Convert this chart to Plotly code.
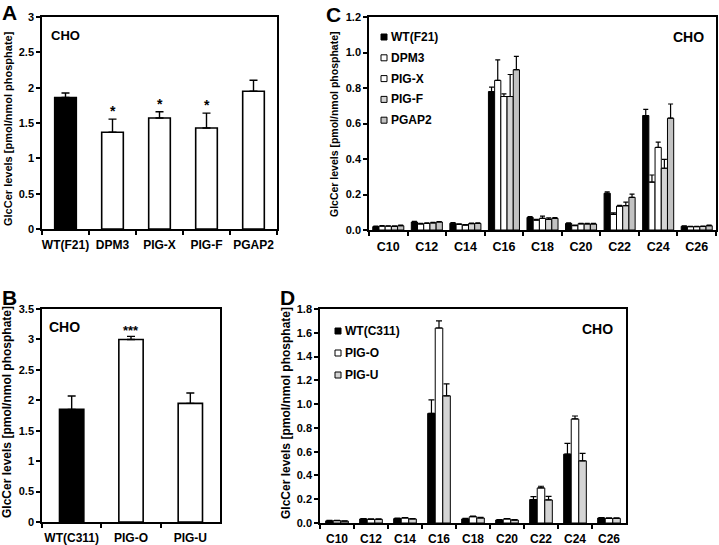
import plotly.graph_objects as go

W, H = 719, 545
FONT = "Arial, Liberation Sans, Helvetica, sans-serif"

# ---------------- data ----------------
a_cats = ["WT(F21)", "DPM3", "PIG-X", "PIG-F", "PGAP2"]
a_vals = [1.86, 1.37, 1.57, 1.43, 1.95]
a_errs = [0.065, 0.185, 0.09, 0.21, 0.155]
a_sig = ["", "*", "*", "*", ""]
a_colors = ["#000000", "#ffffff", "#ffffff", "#ffffff", "#ffffff"]

b_cats = ["WT(C311)", "PIG-O", "PIG-U"]
b_vals = [1.85, 3.0, 1.95]
b_errs = [0.22, 0.05, 0.17]
b_sig = ["", "***", ""]
b_colors = ["#000000", "#ffffff", "#ffffff"]

chains = ["C10", "C12", "C14", "C16", "C18", "C20", "C22", "C24", "C26"]

c_series = ["WT(F21)", "DPM3", "PIG-X", "PIG-F", "PGAP2"]
c_wt = [0.019, 0.045, 0.038, 0.780, 0.071, 0.037, 0.207, 0.645, 0.021]
c_wt_err = [0.003, 0.004, 0.004, 0.025, 0.004, 0.003, 0.008, 0.035, 0.002]
c_dpm3 = [0.022, 0.034, 0.032, 0.843, 0.056, 0.025, 0.088, 0.270, 0.019]
c_dpm3_err = [0.003, 0.004, 0.003, 0.115, 0.004, 0.003, 0.008, 0.040, 0.002]
c_pigx = [0.022, 0.037, 0.028, 0.752, 0.066, 0.035, 0.135, 0.465, 0.019]
c_pigx_err = [0.002, 0.003, 0.003, 0.015, 0.012, 0.003, 0.004, 0.030, 0.002]
c_pigf = [0.020, 0.040, 0.036, 0.752, 0.060, 0.034, 0.137, 0.348, 0.020]
c_pigf_err = [0.003, 0.003, 0.003, 0.124, 0.008, 0.003, 0.020, 0.050, 0.002]
c_pgap2 = [0.024, 0.045, 0.037, 0.903, 0.066, 0.034, 0.184, 0.630, 0.024]
c_pgap2_err = [0.003, 0.003, 0.003, 0.075, 0.004, 0.003, 0.018, 0.080, 0.003]
c_colors = ["#000000", "#ffffff", "#ffffff", "#d4d4d4", "#c2c2c2"]

d_series = ["WT(C311)", "PIG-O", "PIG-U"]
d_wt = [0.018, 0.034, 0.037, 0.922, 0.034, 0.025, 0.197, 0.579, 0.042]
d_wt_err = [0.004, 0.004, 0.005, 0.113, 0.005, 0.003, 0.025, 0.090, 0.004]
d_pigo = [0.020, 0.031, 0.042, 1.640, 0.053, 0.034, 0.295, 0.875, 0.039]
d_pigo_err = [0.003, 0.003, 0.004, 0.060, 0.005, 0.003, 0.014, 0.025, 0.004]
d_pigu = [0.016, 0.031, 0.034, 1.070, 0.042, 0.025, 0.194, 0.523, 0.039]
d_pigu_err = [0.003, 0.004, 0.004, 0.100, 0.005, 0.003, 0.030, 0.062, 0.004]
d_colors = ["#000000", "#ffffff", "#d4d4d4"]

ytitle = "GlcCer levels [pmol/nmol phosphate]"


def px(x):
    return x / W


def py(y):
    return 1 - y / H


fig = go.Figure()

# Panel A
fig.add_trace(go.Bar(
    x=a_cats, y=a_vals, xaxis="x", yaxis="y", width=0.46,
    marker=dict(color=a_colors, line=dict(color="black", width=1.6)),
    error_y=dict(type="data", array=a_errs, arrayminus=[0] * len(a_errs),
                 symmetric=False, color="black", thickness=1.4, width=4),
    showlegend=False))

# Panel B
fig.add_trace(go.Bar(
    x=b_cats, y=b_vals, xaxis="x2", yaxis="y2", width=0.41,
    marker=dict(color=b_colors, line=dict(color="black", width=1.6)),
    error_y=dict(type="data", array=b_errs, arrayminus=[0] * len(b_errs),
                 symmetric=False, color="black", thickness=1.4, width=4),
    showlegend=False))

# Panel C
c_vals = [c_wt, c_dpm3, c_pigx, c_pigf, c_pgap2]
c_errs = [c_wt_err, c_dpm3_err, c_pigx_err, c_pigf_err, c_pgap2_err]
cw = 0.161
for i, name in enumerate(c_series):
    fig.add_trace(go.Bar(
        x=chains, y=c_vals[i], name=name, xaxis="x3", yaxis="y3",
        width=cw, offset=-cw * len(c_series) / 2 + i * cw,
        marker=dict(color=c_colors[i], line=dict(color="black", width=1)),
        error_y=dict(type="data", array=c_errs[i], arrayminus=[0] * 9,
                     symmetric=False, color="black", thickness=1.2, width=2.5),
        showlegend=False))

# Panel D
d_vals = [d_wt, d_pigo, d_pigu]
d_errs = [d_wt_err, d_pigo_err, d_pigu_err]
dw = 0.222
for i, name in enumerate(d_series):
    fig.add_trace(go.Bar(
        x=chains, y=d_vals[i], name=name, xaxis="x4", yaxis="y4",
        width=dw, offset=-dw * len(d_series) / 2 + i * dw,
        marker=dict(color=d_colors[i], line=dict(color="black", width=1)),
        error_y=dict(type="data", array=d_errs[i], arrayminus=[0] * 9,
                     symmetric=False, color="black", thickness=1.2, width=3),
        showlegend=False))

boxline = dict(showline=True, linecolor="black", linewidth=1.5, mirror=True,
               showgrid=False, zeroline=False, automargin=False)


def xax(dom, anchor, n, size=12):
    return dict(domain=dom, anchor=anchor, type="category",
                range=[-0.5, n - 0.5], tickson="boundaries", ticks="outside",
                ticklen=4, tickwidth=1.5, tickcolor="black", tickangle=0,
                tickfont=dict(size=size, color="black", family=FONT, weight="bold"),
                ticklabelstandoff=4, **boxline)


def yax(dom, anchor, rng, dtick, fmt):
    return dict(domain=dom, anchor=anchor, range=rng, dtick=dtick, tick0=0,
                tickformat=fmt, ticks="outside", ticklen=4, tickwidth=1.5,
                tickcolor="black",
                tickfont=dict(size=11, color="black", family=FONT, weight="bold"),
                **boxline)


annotations = []


def txt(x, y, s, size, **kw):
    d = dict(x=px(x), y=py(y), xref="paper", yref="paper", text=s,
             showarrow=False, xanchor="center", yanchor="middle",
             font=dict(size=size, color="black", family=FONT, weight="bold"))
    d.update(kw)
    annotations.append(d)


# panel letters
txt(9, 12, "A", 21)
txt(333, 14, "C", 21)
txt(9, 297, "B", 21)
txt(287, 297, "D", 21)

# y titles
txt(8, 129, ytitle, 11, textangle=-90)
txt(334, 124, ytitle, 10.5, textangle=-90)
txt(7, 412, ytitle, 12, textangle=-90)
txt(286, 413, ytitle, 12, textangle=-90)

# CHO labels
txt(65, 35, "CHO", 13)
txt(688, 37, "CHO", 14)
txt(64, 327, "CHO", 14)
txt(597, 329, "CHO", 14)

# significance stars
for c, v, e, s in zip(a_cats, a_vals, a_errs, a_sig):
    if s:
        annotations.append(dict(x=c, y=v + e, xref="x", yref="y", text=s,
                                showarrow=False, yanchor="bottom", yshift=-2,
                                font=dict(size=14, color="black", family=FONT,
                                          weight="bold")))
for c, v, e, s in zip(b_cats, b_vals, b_errs, b_sig):
    if s:
        annotations.append(dict(x=c, y=v + e, xref="x2", yref="y2", text=s,
                                showarrow=False, yanchor="bottom", yshift=-4,
                                font=dict(size=13, color="black", family=FONT,
                                          weight="bold")))

# manual legends
shapes = []


def legend(names, colors, x_sq, y0, step):
    for i, (n, col) in enumerate(zip(names, colors)):
        yc = y0 + i * step
        shapes.append(dict(type="rect", xref="paper", yref="paper",
                           x0=px(x_sq), x1=px(x_sq + 6), y0=py(yc + 3), y1=py(yc - 3),
                           fillcolor=col, line=dict(color="black", width=1)))
        txt(x_sq + 8, yc, n, 12, xanchor="left")


legend(c_series, c_colors, 381, 37, 20.8)
legend(d_series, d_colors, 335, 331, 22)

fig.update_layout(
    template="none",
    width=W, height=H, autosize=False,
    margin=dict(l=0, r=0, t=0, b=0, pad=0),
    paper_bgcolor="white", plot_bgcolor="white",
    barmode="overlay",
    font=dict(family=FONT, color="black"),
    xaxis=xax([px(42), px(277)], "y", len(a_cats)),
    yaxis=yax([py(229), py(17)], "x", [0, 3], 0.5, None),
    xaxis2=xax([px(42), px(220)], "y2", len(b_cats)),
    yaxis2=yax([py(522), py(309)], "x2", [0, 3.5], 0.5, None),
    xaxis3=xax([px(369), px(716)], "y3", len(chains), 12.5),
    yaxis3=yax([py(230), py(17)], "x3", [0, 1.2], 0.2, ".1f"),
    xaxis4=xax([px(320), px(626)], "y4", len(chains)),
    yaxis4=yax([py(523), py(309)], "x4", [0, 1.8], 0.2, ".1f"),
    annotations=annotations,
    shapes=shapes,
    showlegend=False,
)

fig.write_html("out.html", config={"displayModeBar": False},
               post_script="document.body.style.margin='0';document.body.style.overflow='hidden';")
